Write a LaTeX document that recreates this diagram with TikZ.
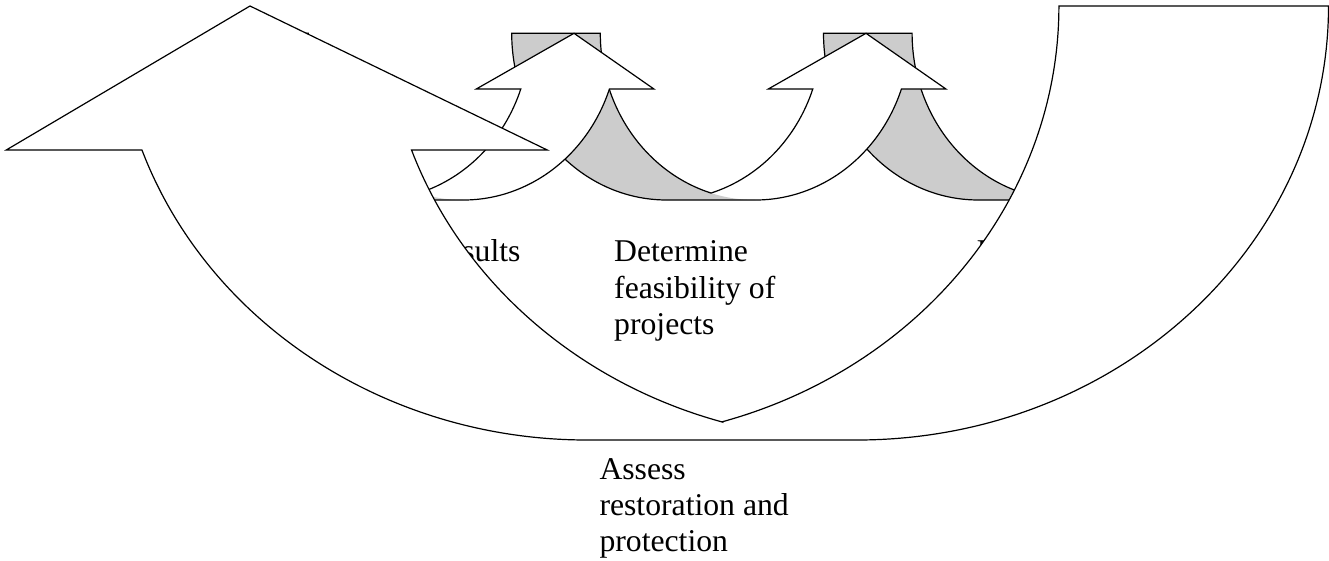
\documentclass[tikz,border=0pt]{standalone}
\usepackage{fontspec}
\setmainfont{Liberation Serif}
\definecolor{backgray}{HTML}{CCCCCC}
\tikzset{
  outline/.style={draw=black, line width=1.2pt, line join=miter},
  sm/.style={x radius=155pt, y radius=166.7pt},
  bg/.style={x radius=471.85pt, y radius=434pt},
  lbl/.style={inner sep=0pt, font=\fontsize{31.7}{36.3}\selectfont},
}
% curved up arrow (light band + shaded back band), left edge at x=#1
\newcommand\CurvedUpArrowAt[1]{%
  \begin{scope}[shift={(#1,0)}]
    \fill[white] (354.3,33.3) -- (434.2,89) -- (389.7,89)
      arc[sm, start angle=340.48, end angle=253.39]
      arc[sm, start angle=286.61, end angle=340.48]
      -- (256.6,89) -- cycle;
    \fill[backgray] (155,200) arc[sm, start angle=270, end angle=180]
      -- (88.6,33.3) arc[sm, start angle=180, end angle=270] -- cycle;
    \draw[outline] (199.3,193.05) arc[sm, start angle=286.61, end angle=340.48]
      -- (256.6,89) -- (354.3,33.3) -- (434.2,89) -- (389.7,89)
      arc[sm, start angle=340.48, end angle=270]
      -- (155,200) arc[sm, start angle=270, end angle=180]
      -- (88.6,33.3) arc[sm, start angle=180, end angle=253.39];
  \end{scope}}
\begin{document}
\begin{tikzpicture}[x=1pt, y=-1pt]
  \useasboundingbox (0,0) rectangle (1329,560);
  \fill[white] (0,0) rectangle (1329,560);
  % small curved arrows (right one first, left one on top)
  \CurvedUpArrowAt{823.5}
  \CurvedUpArrowAt{511.7}
  \CurvedUpArrowAt{219.7}
  % labels
  \node[lbl, anchor=base east] (results) at (520.7,261.7) {Evaluate results};
  \node[lbl, anchor=base west] (determine) at (614,261.7)
    {\parbox[t]{230pt}{Determine\\feasibility of\\projects}};
  \node[lbl, anchor=base west] (implement) at (976.5,261.7)
    {\parbox[t]{230pt}{Implement\\projects}};
  \node[lbl, anchor=base west] (assess) at (599.3,479.3)
    {\parbox[t]{230pt}{Assess\\restoration and\\protection}};
  % big U-shaped curved arrow on top
  \filldraw[outline, fill=white] (721.85,421.9)
    arc[bg, start angle=253.40, end angle=199.38]
    -- (547.25,150) -- (250,6) -- (6.25,150) -- (141.95,150)
    arc[bg, start angle=199.38, end angle=270]
    -- (856.65,440)
    arc[bg, start angle=270, end angle=360]
    -- (1058.9,6)
    arc[bg, start angle=360, end angle=286.60]
    -- cycle;
\end{tikzpicture}
\end{document}
